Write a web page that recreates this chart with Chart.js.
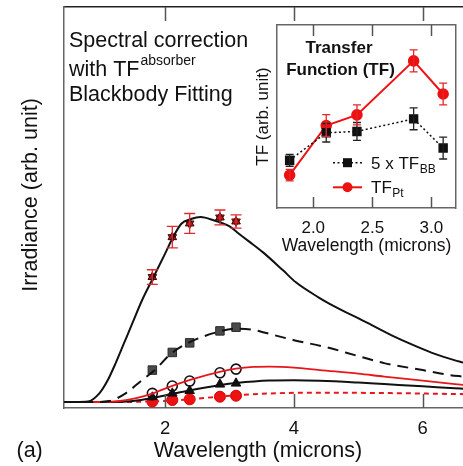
<!DOCTYPE html>
<html><head><meta charset="utf-8">
<script src="https://cdn.jsdelivr.net/npm/chart.js@4.4.1/dist/chart.umd.min.js"></script>
<style>
html,body{margin:0;padding:0;background:#fff;overflow:hidden;width:463px;height:466px;}
#wrap{position:relative;width:463px;height:466px;overflow:hidden;background:#fff;}
#main{position:absolute;left:0;top:0;width:470px;height:466px;}
#inset{position:absolute;left:240px;top:18px;width:223px;height:240px;}
</style></head><body>
<div id="wrap"><canvas id="main" width="470" height="466"></canvas><canvas id="inset" width="223" height="240"></canvas></div>
<script>
// ---------- Main plot data ----------
const xTickVals = [2, 4, 6];
const hotX = [0.43, 0.6, 0.8, 0.98, 1.1, 1.23, 1.36, 1.49, 1.64, 1.82, 2.0, 2.1, 2.25, 2.4, 2.55, 2.76, 3.0, 3.12, 3.3, 3.52, 3.83, 4.03, 4.38, 4.54, 5.15, 5.56, 5.91, 6.2, 6.49, 6.63];
const hotY = [0, 0, 0.005, 0.09, 0.21, 0.39, 0.59, 0.79, 1.02, 1.255, 1.49, 1.625, 1.787, 1.835, 1.855, 1.82, 1.76, 1.70, 1.61, 1.50, 1.32, 1.20, 1.05, 0.99, 0.79, 0.655, 0.555, 0.48, 0.42, 0.395];
const midX = [0.43, 0.9, 1.13, 1.385, 1.64, 1.82, 2.1, 2.38, 2.86, 3.1, 3.4, 3.52, 4.0, 4.5, 5.0, 5.4, 6.0, 6.42, 6.63];
const midY = [0, 0, 0.01, 0.087, 0.22, 0.31, 0.49, 0.60, 0.71, 0.735, 0.72, 0.70, 0.62, 0.55, 0.46, 0.39, 0.32, 0.27, 0.255];
const ptFitX = [0.43, 1.0, 1.3, 1.55, 1.8, 2.1, 2.4, 2.86, 3.1, 3.37, 3.62, 4.0, 4.4, 5.0, 5.4, 6.0, 6.5, 6.63];
const ptFitY = [0, 0, 0.01, 0.04, 0.085, 0.16, 0.225, 0.305, 0.335, 0.352, 0.355, 0.345, 0.32, 0.285, 0.255, 0.215, 0.18, 0.172];
const triFitX = [0.43, 1.2, 1.5, 1.8, 2.1, 2.35, 2.86, 3.1, 3.62, 4.0, 4.4, 5.0, 5.4, 6.0, 6.5, 6.63];
const triFitY = [0, 0, 0.01, 0.04, 0.08, 0.113, 0.17, 0.19, 0.215, 0.218, 0.213, 0.195, 0.18, 0.158, 0.137, 0.133];
const redDashX = [0.43, 1.2, 1.8, 2.1, 2.38, 2.86, 3.1, 3.6, 4.0, 4.4, 5.4, 6.5, 6.63];
const redDashY = [0, 0, 0.006, 0.015, 0.028, 0.055, 0.067, 0.085, 0.092, 0.093, 0.09, 0.08, 0.079];

const measWl = [1.8, 2.11, 2.38, 2.85, 3.1];
const hourglassY = [1.253, 1.653, 1.79, 1.85, 1.81];
const hourglassErr = [0.073, 0.107, 0.1, 0.075, 0.067];
const squareY = [0.32, 0.497, 0.593, 0.713, 0.75];
const openCircleY = [0.087, 0.16, 0.21, 0.293, 0.33];
const blackTriY = [0.047, 0.087, 0.113, 0.177, 0.187];
const redDotY = [0.005, 0.02, 0.027, 0.053, 0.063];

// ---------- Inset data ----------
const insetTickVals = [2.0, 2.5, 3.0];
const tfWl = [1.8, 2.11, 2.37, 2.85, 3.1];
const tfPt = [0.33, 0.83, 0.937, 1.48, 1.147];
const tfPtErr = [0.058, 0.11, 0.1, 0.11, 0.11];
const tfBB5 = [0.48, 0.757, 0.77, 0.897, 0.603];
const tfBB5Err = [0.06, 0.093, 0.09, 0.11, 0.11];

const FONT = '"Liberation Sans", Arial, Helvetica, sans-serif';
const pts = (xs, ys) => xs.map((x, i) => ({x: x, y: ys[i]}));

const errorBarPlugin = {
  id: 'errbars',
  afterDatasetsDraw(chart) {
    const ctx = chart.ctx, xs = chart.scales.x, ys = chart.scales.y;
    chart.data.datasets.forEach(ds => {
      if (!ds.errorBars) return;
      ctx.save();
      ctx.strokeStyle = ds.errorColor; ctx.lineWidth = 1.3;
      ds.data.forEach((p, i) => {
        const e = ds.errorBars[i];
        const px = xs.getPixelForValue(p.x);
        const y1 = ys.getPixelForValue(p.y - e), y2 = ys.getPixelForValue(p.y + e);
        const c = ds.errorCap;
        ctx.beginPath();
        ctx.moveTo(px, y1); ctx.lineTo(px, y2);
        ctx.moveTo(px - c, y1); ctx.lineTo(px + c, y1);
        ctx.moveTo(px - c, y2); ctx.lineTo(px + c, y2);
        ctx.stroke();
      });
      ctx.restore();
    });
  }
};

function inwardTicks(id, vals, len, color) {
  return {
    id: id,
    afterDraw(chart) {
      const ctx = chart.ctx, a = chart.chartArea, xs = chart.scales.x;
      ctx.save(); ctx.strokeStyle = color; ctx.lineWidth = 1.5;
      vals.forEach(v => {
        const px = Math.round(xs.getPixelForValue(v)) + 0.5;
        ctx.beginPath();
        ctx.moveTo(px, a.bottom); ctx.lineTo(px, a.bottom - len);
        ctx.moveTo(px, a.top); ctx.lineTo(px, a.top + len);
        ctx.stroke();
      });
      ctx.restore();
    }
  };
}

const mainText = {
  id: 'mainText',
  afterDraw(chart) {
    const ctx = chart.ctx;
    ctx.save();
    ctx.fillStyle = '#111';
    ctx.textBaseline = 'alphabetic'; ctx.textAlign = 'left';
    ctx.font = '21.5px ' + FONT;
    ctx.fillText('Spectral correction', 69, 46.5);
    ctx.fillText('with TF', 69, 75.5);
    const w = ctx.measureText('with TF').width;
    ctx.fillText('Blackbody Fitting', 69, 100.5);
    ctx.font = '14px ' + FONT;
    ctx.fillText('absorber', 69 + w + 1, 65);
    ctx.font = '21.5px ' + FONT;
    ctx.textAlign = 'center';
    ctx.fillText('Wavelength (microns)', 258, 457);
    ctx.textAlign = 'left';
    ctx.fillText('(a)', 16.5, 457);
    ctx.translate(31, 195);
    ctx.rotate(-Math.PI / 2);
    ctx.textAlign = 'center'; ctx.textBaseline = 'middle';
    ctx.fillText('Irradiance (arb. unit)', 0, 0);
    ctx.restore();
  }
};

const mainChart = new Chart(document.getElementById('main'), {
  type: 'line',
  data: {
    datasets: [
      {data: pts(hotX, hotY), borderColor: '#111', borderWidth: 2, pointRadius: 0, cubicInterpolationMode: 'monotone', fill: false},
      {data: pts(midX, midY), borderColor: '#111', borderWidth: 2, borderDash: [11, 7], pointRadius: 0, cubicInterpolationMode: 'monotone', fill: false},
      {data: pts(ptFitX, ptFitY), borderColor: '#e8161c', borderWidth: 1.8, pointRadius: 0, cubicInterpolationMode: 'monotone', fill: false},
      {data: pts(triFitX, triFitY), borderColor: '#111', borderWidth: 2, pointRadius: 0, cubicInterpolationMode: 'monotone', fill: false},
      {data: pts(redDashX, redDashY), borderColor: '#e8161c', borderWidth: 2, borderDash: [5, 4], pointRadius: 0, cubicInterpolationMode: 'monotone', fill: false},
      {data: pts(measWl, squareY), showLine: false, pointStyle: 'rect', pointRadius: 6, pointBackgroundColor: '#4a4a4a', pointBorderColor: '#2a2a2a', pointBorderWidth: 1},
      {data: pts(measWl, openCircleY), showLine: false, pointStyle: 'circle', pointRadius: 5, pointBackgroundColor: 'rgba(0,0,0,0)', pointBorderColor: '#111', pointBorderWidth: 1.6},
      {data: pts(measWl, blackTriY), showLine: false, pointStyle: 'triangle', pointRadius: 5.5, pointBackgroundColor: '#111', pointBorderColor: '#111', pointBorderWidth: 1},
      {data: pts(measWl, redDotY), showLine: false, pointStyle: 'circle', pointRadius: 5.5, pointBackgroundColor: '#ee1111', pointBorderColor: '#d00', pointBorderWidth: 1},
      {data: pts(measWl, hourglassY), showLine: false, pointStyle: 'triangle', pointRadius: 5, pointBackgroundColor: '#b51a1a', pointBorderColor: '#3a0505', pointBorderWidth: 1,
        errorBars: hourglassErr, errorColor: '#e0282c', errorCap: 5.5},
      {data: pts(measWl, hourglassY), showLine: false, pointStyle: 'triangle', pointRotation: 180, pointRadius: 5, pointBackgroundColor: '#d42020', pointBorderColor: '#5a0a0a', pointBorderWidth: 1}
    ]
  },
  options: {
    responsive: false, animation: false, devicePixelRatio: 1,
    layout: {padding: {left: 0, top: 6, right: 0, bottom: 0}},
    plugins: {legend: {display: false}, tooltip: {enabled: false}},
    scales: {
      x: {type: 'linear', position: 'bottom', min: 0.4275, max: 6.626,
        afterFit: s => { s.height = 58; },
        afterBuildTicks: s => { s.ticks = xTickVals.map(v => ({value: v})); },
        grid: {display: false, drawTicks: false},
        border: {display: true, color: '#666', width: 1.5},
        ticks: {color: '#111', font: {family: FONT, size: 18.5}, padding: 10, callback: v => String(v)}},
      xTop: {type: 'linear', position: 'top', min: 0.4275, max: 6.626,
        afterFit: s => { s.height = 0; },
        grid: {display: false, drawTicks: false}, ticks: {display: false},
        border: {display: true, color: '#222', width: 1.5}},
      y: {type: 'linear', position: 'left', min: -0.06, max: 3.96,
        afterFit: s => { s.width = 64; },
        grid: {display: false, drawTicks: false}, ticks: {display: false},
        border: {display: true, color: '#666', width: 1.5}}
    }
  },
  plugins: [errorBarPlugin, inwardTicks('mainTicks', xTickVals, 14, '#555'), mainText]
});

// ---------- Inset ----------
const insetBg = {
  id: 'insetBg',
  beforeDraw(chart) {
    const a = chart.chartArea, ctx = chart.ctx;
    ctx.save(); ctx.fillStyle = '#fff'; ctx.fillRect(a.left, a.top, a.right - a.left, a.bottom - a.top); ctx.restore();
  }
};
const insetText = {
  id: 'insetText',
  afterDraw(chart) {
    const ctx = chart.ctx;
    ctx.save();
    ctx.fillStyle = '#111';
    ctx.textAlign = 'center'; ctx.textBaseline = 'alphabetic';
    ctx.font = 'bold 17px ' + FONT;
    ctx.fillText('Transfer', 99, 35.3);
    ctx.fillText('Function (TF)', 100.5, 57);
    const y1 = 144.7, y2 = 169.3;
    ctx.strokeStyle = '#111'; ctx.lineWidth = 1.5; ctx.setLineDash([2, 2.5]);
    ctx.beginPath(); ctx.moveTo(93, y1); ctx.lineTo(122, y1); ctx.stroke();
    ctx.setLineDash([]);
    ctx.fillStyle = '#111'; ctx.fillRect(103, y1 - 4.5, 9, 9);
    ctx.strokeStyle = '#ee1111'; ctx.lineWidth = 2;
    ctx.beginPath(); ctx.moveTo(93, y2); ctx.lineTo(122, y2); ctx.stroke();
    ctx.fillStyle = '#ee1111'; ctx.beginPath(); ctx.arc(107.5, y2, 5, 0, Math.PI * 2); ctx.fill();
    ctx.fillStyle = '#111'; ctx.textAlign = 'left'; ctx.textBaseline = 'alphabetic';
    ctx.font = '17px ' + FONT;
    ctx.fillText('5 x TF', 131, y1 + 6);
    let w = ctx.measureText('5 x TF').width;
    ctx.font = '12px ' + FONT;
    ctx.fillText('BB', 131 + w + 0.5, y1 + 10);
    ctx.font = '17px ' + FONT;
    ctx.fillText('TF', 131, y2 + 6);
    w = ctx.measureText('TF').width;
    ctx.font = '12px ' + FONT;
    ctx.fillText('Pt', 131 + w + 0.5, y2 + 10);
    ctx.restore();
  }
};

const insetChart = new Chart(document.getElementById('inset'), {
  type: 'line',
  data: {
    datasets: [
      {data: pts(tfWl, tfBB5), borderColor: '#111', borderWidth: 1.5, borderDash: [2, 2.5], tension: 0,
        pointStyle: 'rect', pointRadius: 5.6, pointBackgroundColor: '#111', pointBorderColor: '#111',
        errorBars: tfBB5Err, errorColor: '#222', errorCap: 4},
      {data: pts(tfWl, tfPt), borderColor: '#ee1111', borderWidth: 2, tension: 0,
        pointStyle: 'circle', pointRadius: 4.8, pointBackgroundColor: '#ee1111', pointBorderColor: '#ee1111',
        errorBars: tfPtErr, errorColor: '#e0282c', errorCap: 4}
    ]
  },
  options: {
    responsive: false, animation: false, devicePixelRatio: 1,
    layout: {padding: {left: 0, top: 6, right: 2, bottom: 0}},
    plugins: {legend: {display: false}, tooltip: {enabled: false}},
    scales: {
      x: {type: 'linear', position: 'bottom', min: 1.693, max: 3.208,
        afterFit: s => { s.height = 50; },
        afterBuildTicks: s => { s.ticks = insetTickVals.map(v => ({value: v})); },
        grid: {display: false, drawTicks: false},
        border: {display: true, color: '#666', width: 1.5},
        ticks: {color: '#111', font: {family: FONT, size: 17}, padding: 10, callback: v => Number(v).toFixed(1)},
        title: {display: true, text: 'Wavelength (microns)', color: '#111', font: {family: FONT, size: 17.5}, padding: {top: 0, bottom: 1.5}}},
      xTop: {type: 'linear', position: 'top', min: 1.693, max: 3.208,
        afterFit: s => { s.height = 0; },
        grid: {display: false, drawTicks: false}, ticks: {display: false},
        border: {display: true, color: '#666', width: 1.5}},
      y: {type: 'linear', position: 'left', min: 0, max: 1.84,
        afterFit: s => { s.width = 37; },
        grid: {display: false, drawTicks: false}, ticks: {display: false},
        border: {display: true, color: '#666', width: 1.5},
        title: {display: true, text: 'TF (arb. unit)', color: '#111', font: {family: FONT, size: 17}, padding: {top: 12.8, bottom: 0}}},
      yRight: {type: 'linear', position: 'right', min: 0, max: 1.84,
        afterFit: s => { s.width = 0; },
        grid: {display: false, drawTicks: false}, ticks: {display: false},
        border: {display: true, color: '#666', width: 1.5}}
    }
  },
  plugins: [insetBg, errorBarPlugin, inwardTicks('insetTicks', insetTickVals, 11, '#555'), insetText]
});
</script>
</body></html>
